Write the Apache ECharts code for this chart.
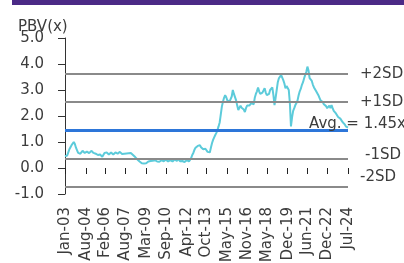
<!DOCTYPE html>
<html>
<head>
<meta charset="utf-8">
<script src="https://cdn.jsdelivr.net/npm/echarts@6/dist/echarts.min.js"></script>
<style>
  html, body { margin: 0; padding: 0; background: #fff; }
  #chart { width: 404px; height: 263px; }
</style>
</head>
<body>
<div id="chart"></div>
<script>
// monthly categories Jan-03 .. Jul-24
const monthNames = ['Jan','Feb','Mar','Apr','May','Jun','Jul','Aug','Sep','Oct','Nov','Dec'];
const months = [];
for (let y = 2003; y <= 2024; y++) {
    for (let m = 0; m < 12; m++) {
        if (y === 2024 && m > 6) break;
        months.push(monthNames[m] + '-' + String(y).slice(2));
    }
}

const tickLabels = ['Jan-03','Aug-04','Feb-06','Aug-07','Mar-09','Sep-10','Apr-12','Oct-13',
    'May-15','Nov-16','May-18','Dec-19','Jun-21','Dec-22','Jul-24'];

// PBV (x), one value per month
const pbv = [
    0.45, 0.50, 0.48, 0.60, 0.72, 0.80, 0.88, 0.95, 1.00, 0.92, 0.78, 0.68, // 2003
    0.58, 0.62, 0.55, 0.60, 0.66, 0.62, 0.58, 0.65, 0.63, 0.60, 0.57, 0.62, // 2004
    0.66, 0.60, 0.58, 0.62, 0.55, 0.52, 0.50, 0.47, 0.52, 0.48, 0.43, 0.50, // 2005
    0.58, 0.65, 0.60, 0.56, 0.52, 0.55, 0.60, 0.57, 0.52, 0.55, 0.60, 0.58, // 2006
    0.55, 0.60, 0.62, 0.57, 0.54, 0.58, 0.55, 0.52, 0.56, 0.60, 0.57, 0.55, // 2007
    0.58, 0.55, 0.50, 0.45, 0.42, 0.38, 0.33, 0.28, 0.25, 0.22, 0.18, 0.20, // 2008
    0.17, 0.15, 0.18, 0.22, 0.25, 0.23, 0.27, 0.25, 0.28, 0.26, 0.30, 0.27, // 2009
    0.25, 0.28, 0.24, 0.27, 0.30, 0.28, 0.26, 0.30, 0.32, 0.28, 0.25, 0.27, // 2010
    0.30, 0.27, 0.25, 0.28, 0.33, 0.30, 0.27, 0.35, 0.30, 0.26, 0.24, 0.27, // 2011
    0.25, 0.23, 0.27, 0.30, 0.28, 0.25, 0.28, 0.38, 0.50, 0.58, 0.70, 0.78, // 2012
    0.82, 0.85, 0.90, 0.88, 0.80, 0.77, 0.72, 0.70, 0.74, 0.68, 0.62, 0.58, // 2013
    0.60, 0.78, 0.95, 1.08, 1.18, 1.27, 1.35, 1.46, 1.60, 1.75, 2.05, 2.36, // 2014
    2.55, 2.70, 2.80, 2.72, 2.60, 2.65, 2.55, 2.50, 2.75, 3.00, 2.85, 2.90, // 2015
    2.60, 2.40, 2.23, 2.30, 2.40, 2.32, 2.35, 2.25, 2.15, 2.30, 2.40, 2.35, // 2016
    2.40, 2.45, 2.50, 2.55, 2.45, 2.70, 2.85, 2.95, 3.10, 2.95, 2.85, 2.90, // 2017
    2.90, 2.95, 3.07, 2.90, 2.80, 2.73, 2.85, 3.00, 2.95, 3.10, 2.80, 2.42, // 2018
    2.70, 3.00, 3.30, 3.45, 3.50, 3.58, 3.55, 3.38, 3.25, 3.07, 3.15, 3.20, // 2019
    3.00, 2.50, 1.60, 1.95, 2.20, 2.30, 2.42, 2.50, 2.60, 2.80, 2.95, 3.05, // 2020
    3.20, 3.30, 3.45, 3.58, 3.70, 3.90, 3.75, 3.46, 3.50, 3.35, 3.20, 3.10, // 2021
    3.05, 2.95, 2.92, 2.80, 2.70, 2.60, 2.65, 2.54, 2.45, 2.50, 2.38, 2.30, // 2022
    2.35, 2.40, 2.30, 2.42, 2.30, 2.20, 2.15, 2.10, 2.05, 1.96, 2.00, 1.90, // 2023
    1.85, 1.77, 1.70, 1.68, 1.60, 1.62, 1.55                                // 2024
];

// reference lines: +2SD, +1SD, Avg, -1SD, -2SD
const bandValues = [3.63, 2.54, 1.45, 0.36, -0.73];
const bandLabels = ['+2SD', '+1SD', 'Avg. = 1.45x', '-1SD', '-2SD'];

const yTicks = [-1, 0, 1, 2, 3, 4, 5];

const FONT = '"DejaVu Sans", sans-serif';
const TXT = '#3c3c3c';
const showTick = (i, v) => tickLabels.indexOf(v) >= 0;

var myChart = echarts.init(document.getElementById('chart'), null, { renderer: 'canvas' });

var option = {
    animation: false,
    grid: {
        left: 65, right: 56, top: 38, bottom: 69,
        containLabel: false,
        outerBoundsMode: 'none'
    },
    xAxis: [
        {
            type: 'category',
            data: months,
            boundaryGap: false,
            position: 'bottom',
            axisLine: { show: false, onZero: true },
            axisTick: { show: true, interval: showTick, length: 6, lineStyle: { color: '#222', width: 1 } },
            axisLabel: { show: false },
            splitLine: { show: false }
        },
        {
            type: 'category',
            data: months,
            boundaryGap: false,
            position: 'bottom',
            axisLine: { show: false, onZero: false },
            axisTick: { show: false },
            axisLabel: {
                interval: showTick,
                rotate: 90,
                margin: 13,
                color: TXT,
                fontSize: 15,
                fontFamily: FONT
            },
            splitLine: { show: false }
        }
    ],
    yAxis: {
        type: 'value',
        min: yTicks[0],
        max: yTicks[yTicks.length - 1],
        interval: 1,
        axisLine: { show: true, lineStyle: { color: '#333', width: 1 } },
        axisTick: { show: true, length: 7, lineStyle: { color: '#333' } },
        axisLabel: {
            margin: 21,
            color: TXT,
            fontSize: 15,
            fontFamily: FONT,
            formatter: v => v.toFixed(1)
        },
        splitLine: { show: false }
    },
    series: [
        {
            type: 'line',
            data: pbv,
            xAxisIndex: 0,
            symbol: 'none',
            lineStyle: { color: '#5ccbda', width: 2 },
            z: 3,
            markLine: {
                silent: true,
                symbol: ['none', 'none'],
                label: { show: false },
                data: bandValues.map((v, i) => ({
                    yAxis: v,
                    lineStyle: {
                        color: i === 2 ? '#2d76d9' : '#8a8a8a',
                        width: i === 2 ? 3 : 2,
                        type: 'solid'
                    }
                }))
            }
        }
    ]
};

myChart.setOption(option);

// band labels + title text, placed from the y scale
const labelPos = [
    { x: 360, dy: 0 },
    { x: 360, dy: 0 },
    { x: 309, dy: -6 },
    { x: 365, dy: -4 },
    { x: 360, dy: -10 }
];
const graphics = [
    { type: 'rect', shape: { x: 12, y: 0, width: 392, height: 5 }, style: { fill: '#4b2a86' } },
    {
        type: 'text', x: 18, y: 27, z: 100,
        style: { text: 'PBV(x)', fill: TXT, font: '15px ' + FONT, verticalAlign: 'middle', textVerticalAlign: 'middle' }
    }
];
bandValues.forEach((v, i) => {
    const py = myChart.convertToPixel({ yAxisIndex: 0 }, v);
    graphics.push({
        type: 'text', x: labelPos[i].x, y: py + labelPos[i].dy, z: 100,
        style: {
            text: bandLabels[i], fill: TXT, font: '15px ' + FONT,
            align: 'left', verticalAlign: 'middle',
            textAlign: 'left', textVerticalAlign: 'middle'
        }
    });
});
myChart.setOption({ graphic: graphics });
</script>
</body>
</html>
